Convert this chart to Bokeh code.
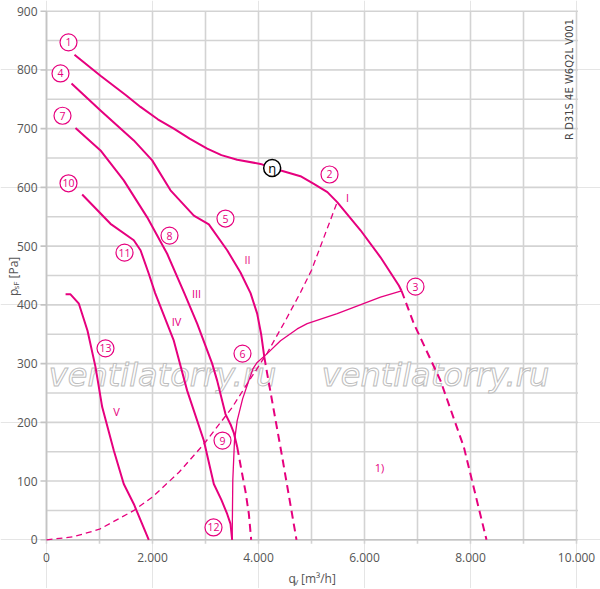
import math
from bokeh.plotting import figure
from bokeh.core.properties import value
from bokeh.embed import file_html
from bokeh.resources import INLINE

MAG = "#E6007E"
FONT = "Open Sans"
GRID = "#d3d3d3"
TXT = "#555555"

# ---- data ----
curve1_x = [528, 1019, 1500, 1774, 2100, 2402, 2700, 3032, 3300, 3598, 4038, 4258, 4792, 5044, 5300, 5485, 5925, 6302, 6648, 6698]
curve1_y = [826, 790, 757, 737, 716, 700, 683, 666, 655, 647, 640, 633, 619, 606, 592, 575, 527, 481, 433, 424]
curve1_dash_x = [6698, 6931, 7434, 7874, 8302]
curve1_dash_y = [424, 368, 271, 158, 0]

curve2_x = [472, 1019, 1647, 1994, 2340, 2780, 3063, 3409, 3660, 3850, 3975, 4050, 4110]
curve2_y = [777, 731, 680, 646, 595, 552, 537, 493, 455, 420, 385, 350, 311]
curve2_dash_x = [4110, 4164, 4447, 4717]
curve2_dash_y = [311, 283, 141, 0]

curve3_x = [547, 1019, 1458, 1900, 2277, 2600, 2843, 3126, 3220, 3377, 3480, 3535, 3598]
curve3_y = [701, 663, 612, 549, 487, 420, 368, 300, 271, 214, 195, 182, 158]
curve3_dash_x = [3598, 3692, 3755, 3818, 3862]
curve3_dash_y = [158, 112, 82, 44, 0]

curve4_x = [673, 1208, 1647, 1774, 1930, 2050, 2402, 2654, 2968, 3157, 3300, 3409, 3472, 3503]
curve4_y = [588, 538, 510, 493, 453, 420, 339, 254, 169, 95, 68, 44, 27, 0]

curve5_x = [360, 453, 611, 774, 925, 1051, 1270, 1458, 1647, 1930]
curve5_y = [418, 418, 402, 356, 294, 226, 152, 95, 61, 0]

limit_x = [6698, 6302, 5485, 4918, 4730, 4415, 4164, 3975, 3900, 3817, 3700, 3598, 3547, 3515, 3503]
limit_y = [424, 413, 385, 368, 359, 339, 317, 302, 292, 271, 240, 203, 169, 101, 0]

system_x = [0, 500, 1000, 1650, 2000, 2500, 2969, 3500, 3817, 4164, 4500, 4792, 5000, 5485]
system_y = [0, 5, 18, 50, 73, 115, 163, 225, 270, 318, 372, 421, 459, 575]

circ_text = ["1", "2", "3", "4", "5", "6", "7", "8", "9", "10", "11", "12", "13"]
circ_x = [415, 5340, 6962, 264, 3377, 3698, 302, 2321, 3321, 415, 1472, 3151, 1113]
circ_y = [847, 622, 431, 794, 547, 317, 722, 518, 169, 607, 489, 21, 326]

eta_x = [4258]
eta_y = [633]

roman_text = ["I", "II", "III", "IV", "V"]
roman_x = [5679, 3792, 2830, 2453, 1321]
roman_y = [583, 477, 420, 372, 219]

note_text = ["1)"]
note_x = [6283]
note_y = [123]

wm_text = ["ventilatorry.ru", "ventilatorry.ru"]
wm_x = [2189, 7340]

x_ticks = [0, 2000, 4000, 6000, 8000, 10000]
x_tick_labels = ["0", "2.000", "4.000", "6.000", "8.000", "10.000"]
y_ticks = [0, 100, 200, 300, 400, 500, 600, 700, 800, 900]
y_tick_labels = ["0", "100", "200", "300", "400", "500", "600", "700", "800", "900"]
x_grid = list(range(0, 10001, 1000))
y_grid = list(range(0, 901, 50))
X_MAX, Y_MAX = 10000, 900

# ---- layout: one frame covering the whole canvas ----
W, H = 600, 588
LEFT_PX, RIGHT_PX, TOP_PX, BOTTOM_PX = 46.0, 576.0, 10.7, 539.3
ux = X_MAX / (RIGHT_PX - LEFT_PX)   # data units per pixel (x)
uy = Y_MAX / (BOTTOM_PX - TOP_PX)   # data units per pixel (y)


def X(px):
    return (px - LEFT_PX) * ux


def Y(py):
    return (BOTTOM_PX - py) * uy


p = figure(width=W, height=H, x_range=(X(0), X(W)), y_range=(Y(H), Y(0)),
           output_backend="svg", toolbar_location=None,
           x_axis_location=None, y_axis_location=None, min_border=0)
p.outline_line_color = None
p.background_fill_color = "white"
p.border_fill_color = "white"

# grid lines
p.segment(x0=x_grid, y0=[Y(BOTTOM_PX + 4)] * len(x_grid), x1=x_grid, y1=[Y_MAX] * len(x_grid),
          line_color=GRID, line_width=1.6)
p.segment(x0=[0] * len(y_grid), y0=y_grid, x1=[X_MAX + 1.5 * ux] * len(y_grid), y1=y_grid,
          line_color=GRID, line_width=1.6)
# y ticks
p.segment(x0=[-6 * ux] * len(y_ticks), y0=y_ticks, x1=[0] * len(y_ticks), y1=y_ticks,
          line_color="#c4c4c4", line_width=1.6)
# axis lines
p.segment(x0=[0, 0], y0=[0, 0], x1=[0, X_MAX], y1=[Y_MAX, 0], line_color="#c4c4c4", line_width=1.6)

# tick labels
p.text([-9 * ux] * len(y_ticks), y_ticks, text=y_tick_labels, text_font=value(FONT),
       text_font_size="12px", text_color=TXT, text_align="right", text_baseline="middle")
p.text(x_ticks, [-17.4 * uy] * len(x_ticks), text=x_tick_labels, text_font=value(FONT),
       text_font_size="12px", text_color=TXT, text_align="center", text_baseline="middle")

# axis titles  p_sF [Pa]  and  q_V [m³/h]
p.text([X(12.5)], [Y(295.5)], text=["p"], angle=math.pi / 2, text_font=value(FONT),
       text_font_size="12px", text_color=TXT, text_align="left", text_baseline="alphabetic")
p.text([X(15)], [Y(289)], text=["sF"], angle=math.pi / 2, text_font=value(FONT),
       text_font_size="8px", text_color=TXT, text_align="left", text_baseline="alphabetic")
p.text([X(12.5)], [Y(278)], text=["[Pa]"], angle=math.pi / 2, text_font=value(FONT),
       text_font_size="12px", text_color=TXT, text_align="left", text_baseline="alphabetic")
p.text([X(288)], [Y(578)], text=["q"], text_font=value(FONT), text_font_size="12px",
       text_color=TXT, text_align="left", text_baseline="alphabetic")
p.text([X(293)], [Y(580.5)], text=["V"], text_font=value(FONT), text_font_size="8px",
       text_color=TXT, text_align="left", text_baseline="alphabetic")
p.text([X(300.5)], [Y(578)], text=["[m³/h]"], text_font=value(FONT), text_font_size="12px",
       text_color=TXT, text_align="left", text_baseline="alphabetic")

# watermark
p.text(wm_x, [Y(374)] * len(wm_x), text=wm_text, text_font=value("DejaVu Sans"),
       text_font_style="italic", text_font_size="32px", text_color="white",
       text_outline_color="#bdbdbd", text_align="center", text_baseline="middle")

# system curve (dashed, thin) and limit line through 3-6-9-12
p.line(system_x, system_y, line_color=MAG, line_width=1.3, line_dash="6 4")
p.line(limit_x, limit_y, line_color=MAG, line_width=1.3)

# speed curves
for xs, ys in [(curve1_x, curve1_y), (curve2_x, curve2_y), (curve3_x, curve3_y),
               (curve4_x, curve4_y), (curve5_x, curve5_y)]:
    p.line(xs, ys, line_color=MAG, line_width=2, line_join="round")
for xs, ys in [(curve1_dash_x, curve1_dash_y), (curve2_dash_x, curve2_dash_y),
               (curve3_dash_x, curve3_dash_y)]:
    p.line(xs, ys, line_color=MAG, line_width=2, line_dash="8 5")

# circled numbers
p.scatter(circ_x, circ_y, size=17, fill_color="white", line_color=MAG, line_width=1.2)
p.text(circ_x, circ_y, text=circ_text, text_font=value(FONT), text_font_size="10.5px",
       text_color=MAG, text_align="center", text_baseline="middle")
p.scatter(eta_x, eta_y, size=17, fill_color="white", line_color="black", line_width=1.5)
p.text(eta_x, eta_y, text=["η"], text_font=value(FONT), text_font_size="13px",
       text_color="black", text_align="center", text_baseline="middle")

# roman numerals & note
p.text(roman_x, roman_y, text=roman_text, text_font=value(FONT), text_font_size="11px",
       text_color=MAG, text_align="center", text_baseline="middle")
p.text(note_x, note_y, text=note_text, text_font=value(FONT), text_font_size="11px",
       text_color=MAG, text_align="center", text_baseline="middle")

# model code (vertical)
p.text([X(569.3)], [Y(139.5)], text=["R D31S 4E W6Q2L V001"], angle=math.pi / 2,
       text_font=value("DejaVu Sans"), text_font_size="10px", text_color="#444444",
       text_align="left", text_baseline="alphabetic")

open("out.html", "w").write(file_html(p, INLINE))
